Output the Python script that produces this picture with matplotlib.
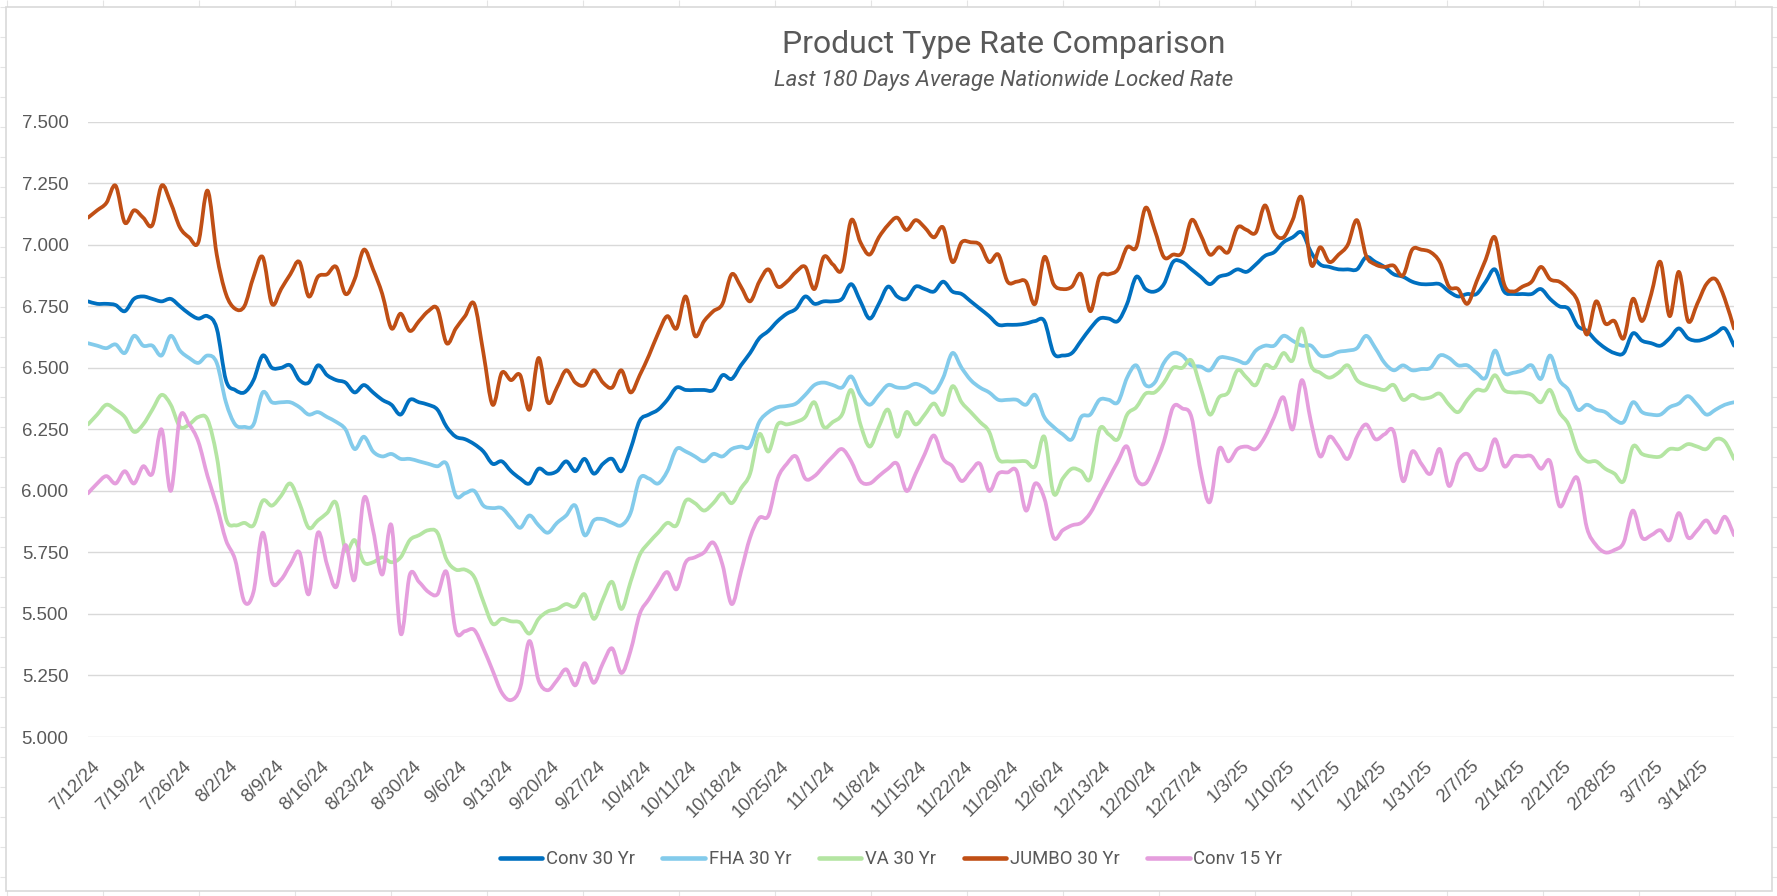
import numpy as np
import pandas as pd
import matplotlib
matplotlib.use('Agg')
import matplotlib.pyplot as plt
from matplotlib.patches import Rectangle, PathPatch
from matplotlib.path import Path
from matplotlib.lines import Line2D
from matplotlib.ticker import FormatStrFormatter
from matplotlib.transforms import ScaledTranslation

plt.rcParams['font.family'] = ['Liberation Sans', 'DejaVu Sans']

# 180 business days of average locked rates
dates = pd.bdate_range('2024-07-12', periods=180)

conv30 = [
    6.77, 6.76, 6.76, 6.755, 6.73, 6.78, 6.79, 6.78, 6.77, 6.78,
    6.75, 6.72, 6.70, 6.71, 6.66, 6.45, 6.41, 6.40, 6.45, 6.55,
    6.50, 6.50, 6.51, 6.45, 6.44, 6.51, 6.47, 6.45, 6.44, 6.40,
    6.43, 6.40, 6.37, 6.35, 6.31, 6.37, 6.36, 6.35, 6.33, 6.26,
    6.22, 6.21, 6.19, 6.16, 6.11, 6.12, 6.08, 6.05, 6.03, 6.09,
    6.07, 6.08, 6.12, 6.08, 6.13, 6.07, 6.11, 6.13, 6.08, 6.17,
    6.285, 6.31, 6.33, 6.37, 6.42, 6.41, 6.41, 6.41, 6.41, 6.47,
    6.455, 6.51, 6.56, 6.62, 6.65, 6.69, 6.72, 6.74, 6.79, 6.76,
    6.77, 6.77, 6.78, 6.84, 6.77, 6.70, 6.76, 6.83, 6.79, 6.78,
    6.83, 6.82, 6.81, 6.85, 6.81, 6.80, 6.77, 6.74, 6.71, 6.675,
    6.675, 6.675, 6.68, 6.69, 6.69, 6.56, 6.55, 6.56, 6.61, 6.66,
    6.70, 6.70, 6.69, 6.76, 6.87, 6.82, 6.81, 6.84, 6.93, 6.93,
    6.90, 6.87, 6.84, 6.87, 6.88, 6.90, 6.89, 6.92, 6.955, 6.97,
    7.01, 7.03, 7.05, 6.97, 6.92, 6.91, 6.90, 6.90, 6.90, 6.95,
    6.93, 6.91, 6.88, 6.87, 6.85, 6.84, 6.84, 6.84, 6.81, 6.79,
    6.80, 6.80, 6.85, 6.90, 6.81, 6.80, 6.80, 6.80, 6.82, 6.78,
    6.75, 6.74, 6.67, 6.65, 6.61, 6.58, 6.56, 6.56, 6.64, 6.61,
    6.60, 6.59, 6.62, 6.66, 6.62, 6.61, 6.62, 6.64, 6.66, 6.59,
]

fha30 = [
    6.60, 6.59, 6.58, 6.595, 6.56, 6.63, 6.59, 6.59, 6.55, 6.63,
    6.57, 6.54, 6.52, 6.55, 6.52, 6.36, 6.27, 6.26, 6.27, 6.40,
    6.36, 6.36, 6.36, 6.34, 6.31, 6.32, 6.30, 6.28, 6.25, 6.17,
    6.22, 6.16, 6.14, 6.15, 6.13, 6.13, 6.12, 6.11, 6.10, 6.11,
    5.98, 5.99, 6.00, 5.94, 5.93, 5.93, 5.89, 5.85, 5.90, 5.86,
    5.83, 5.87, 5.90, 5.94, 5.82, 5.88, 5.885, 5.87, 5.86, 5.91,
    6.05, 6.05, 6.03, 6.08, 6.17, 6.16, 6.14, 6.12, 6.15, 6.14,
    6.17, 6.18, 6.18, 6.28, 6.32, 6.34, 6.345, 6.355, 6.39, 6.43,
    6.44, 6.43, 6.42, 6.465, 6.39, 6.35, 6.39, 6.43, 6.42, 6.42,
    6.435, 6.42, 6.40, 6.46, 6.56, 6.50, 6.45, 6.42, 6.40, 6.37,
    6.37, 6.37, 6.35, 6.39, 6.30, 6.26, 6.23, 6.21, 6.30, 6.31,
    6.37, 6.37, 6.36, 6.46, 6.51, 6.43, 6.44, 6.52, 6.56, 6.55,
    6.51, 6.505, 6.49, 6.54, 6.54, 6.53, 6.52, 6.57, 6.59, 6.59,
    6.63, 6.61, 6.59, 6.59, 6.55, 6.55, 6.565, 6.57, 6.58, 6.63,
    6.58, 6.52, 6.49, 6.51, 6.49, 6.495, 6.50, 6.55, 6.54, 6.51,
    6.51, 6.48, 6.46, 6.57, 6.48, 6.48, 6.49, 6.51, 6.455, 6.55,
    6.45, 6.41, 6.33, 6.35, 6.33, 6.32, 6.29, 6.28, 6.36, 6.32,
    6.31, 6.31, 6.34, 6.355, 6.385, 6.35, 6.31, 6.33, 6.35, 6.36,
]

va30 = [
    6.27, 6.31, 6.35, 6.33, 6.30, 6.24, 6.27, 6.33, 6.39, 6.35,
    6.26, 6.27, 6.30, 6.29, 6.14, 5.89, 5.86, 5.87, 5.86, 5.96,
    5.94, 5.98, 6.03, 5.95, 5.85, 5.88, 5.91, 5.95, 5.76, 5.80,
    5.71, 5.71, 5.73, 5.71, 5.73, 5.80, 5.82, 5.84, 5.83, 5.72,
    5.68, 5.68, 5.65, 5.55, 5.46, 5.48, 5.47, 5.465, 5.42, 5.48,
    5.51, 5.52, 5.54, 5.53, 5.58, 5.48, 5.56, 5.63, 5.52, 5.63,
    5.74, 5.79, 5.83, 5.87, 5.86, 5.96, 5.95, 5.92, 5.95, 5.99,
    5.95, 6.01, 6.07, 6.23, 6.16, 6.27, 6.27, 6.28, 6.30, 6.36,
    6.26, 6.28, 6.31, 6.41, 6.27, 6.18, 6.26, 6.33, 6.22, 6.32,
    6.27, 6.31, 6.355, 6.31, 6.425, 6.36, 6.32, 6.28, 6.24, 6.13,
    6.12, 6.12, 6.12, 6.10, 6.22, 5.99, 6.05, 6.09, 6.08, 6.05,
    6.25, 6.23, 6.21, 6.31, 6.34, 6.395, 6.40, 6.44, 6.50, 6.50,
    6.53, 6.42, 6.31, 6.38, 6.40, 6.49, 6.46, 6.43, 6.51, 6.50,
    6.56, 6.53, 6.66, 6.51, 6.48, 6.46, 6.48, 6.51, 6.45, 6.43,
    6.42, 6.41, 6.43, 6.37, 6.39, 6.375, 6.38, 6.395, 6.35, 6.32,
    6.37, 6.41, 6.41, 6.47, 6.41, 6.40, 6.40, 6.39, 6.36, 6.41,
    6.32, 6.27, 6.16, 6.12, 6.12, 6.09, 6.07, 6.04, 6.18, 6.15,
    6.14, 6.14, 6.17, 6.17, 6.19, 6.18, 6.17, 6.21, 6.20, 6.13,
]

jumbo30 = [
    7.11, 7.14, 7.17, 7.24, 7.09, 7.14, 7.11, 7.08, 7.24, 7.17,
    7.07, 7.03, 7.01, 7.22, 6.96, 6.80, 6.74, 6.75, 6.87, 6.95,
    6.76, 6.82, 6.88, 6.93, 6.79, 6.87, 6.88, 6.91, 6.80, 6.86,
    6.98, 6.90, 6.80, 6.66, 6.72, 6.65, 6.69, 6.73, 6.74, 6.60,
    6.66, 6.71, 6.76, 6.56, 6.35, 6.48, 6.45, 6.47, 6.33, 6.54,
    6.36, 6.42, 6.49, 6.44, 6.43, 6.49, 6.44, 6.42, 6.49, 6.40,
    6.47, 6.55, 6.64, 6.71, 6.66, 6.79, 6.63, 6.69, 6.73, 6.76,
    6.88, 6.83, 6.77, 6.85, 6.90, 6.83, 6.85, 6.89, 6.91, 6.82,
    6.95, 6.92, 6.90, 7.10, 7.01, 6.96, 7.03, 7.08, 7.11, 7.06,
    7.10, 7.07, 7.03, 7.07, 6.93, 7.01, 7.01, 7.00, 6.93, 6.96,
    6.85, 6.85, 6.85, 6.76, 6.95, 6.84, 6.82, 6.83, 6.88, 6.73,
    6.87, 6.88, 6.90, 6.99, 6.99, 7.15, 7.06, 6.95, 6.96, 6.97,
    7.10, 7.04, 6.96, 6.99, 6.97, 7.07, 7.06, 7.05, 7.16, 7.05,
    7.03, 7.10, 7.19, 6.92, 6.99, 6.93, 6.96, 7.00, 7.10, 6.955,
    6.92, 6.91, 6.915, 6.875, 6.98, 6.98, 6.97, 6.93, 6.83, 6.82,
    6.76, 6.85, 6.94, 7.03, 6.84, 6.81, 6.83, 6.85, 6.91, 6.86,
    6.85, 6.82, 6.77, 6.635, 6.77, 6.68, 6.69, 6.62, 6.78, 6.69,
    6.80, 6.93, 6.71, 6.89, 6.69, 6.76, 6.84, 6.86, 6.78, 6.66,
]

conv15 = [
    5.99, 6.03, 6.06, 6.03, 6.08, 6.03, 6.10, 6.07, 6.25, 6.00,
    6.30, 6.27, 6.20, 6.06, 5.94, 5.80, 5.72, 5.55, 5.59, 5.83,
    5.63, 5.64, 5.70, 5.75, 5.58, 5.83, 5.70, 5.61, 5.78, 5.64,
    5.97, 5.84, 5.66, 5.86, 5.42, 5.66, 5.63, 5.59, 5.58, 5.67,
    5.43, 5.43, 5.435, 5.36, 5.27, 5.18, 5.15, 5.20, 5.39, 5.23,
    5.19, 5.23, 5.275, 5.21, 5.30, 5.22, 5.30, 5.36, 5.26, 5.35,
    5.50, 5.56, 5.62, 5.67, 5.60, 5.71, 5.73, 5.75, 5.79, 5.70,
    5.54, 5.67, 5.81, 5.89, 5.90, 6.05, 6.11, 6.14, 6.05, 6.06,
    6.10, 6.14, 6.17, 6.12, 6.04, 6.03, 6.06, 6.09, 6.11, 6.00,
    6.07, 6.15, 6.225, 6.13, 6.10, 6.04, 6.08, 6.11, 6.00, 6.07,
    6.075, 6.08, 5.92, 6.03, 5.97, 5.81, 5.84, 5.86, 5.87, 5.91,
    5.98, 6.05, 6.12, 6.18, 6.05, 6.03, 6.10, 6.20, 6.34, 6.335,
    6.30, 6.08, 5.955, 6.17, 6.12, 6.17, 6.18, 6.17, 6.22, 6.30,
    6.38, 6.25, 6.45, 6.28, 6.14, 6.22, 6.18, 6.13, 6.22, 6.27,
    6.21, 6.23, 6.24, 6.04, 6.16, 6.11, 6.07, 6.17, 6.02, 6.12,
    6.15, 6.09, 6.10, 6.21, 6.10, 6.14, 6.14, 6.14, 6.09, 6.12,
    5.94, 6.00, 6.05, 5.85, 5.78, 5.75, 5.76, 5.79, 5.92, 5.81,
    5.82, 5.84, 5.80, 5.91, 5.81, 5.84, 5.88, 5.83, 5.895, 5.82,
]

series_names = ['Conv 30 Yr', 'FHA 30 Yr', 'VA 30 Yr', 'JUMBO 30 Yr', 'Conv 15 Yr']
series_colors = ['#0070C0', '#83CBEB', '#B4E5A2', '#C04F15', '#E59EDD']
narrow = ['Liberation Sans Narrow', 'Roboto', 'DejaVu Sans']
text_color = '#595959'
line_w = 2.7


def smooth_path(xs, ys):
    # Excel style "smoothed line": cubic Bezier through every point
    p = np.column_stack([xs, ys]).astype(float)
    ext = np.vstack([p[:1], p, p[-1:]])
    verts = [p[0]]
    codes = [Path.MOVETO]
    for i in range(len(p) - 1):
        c1 = ext[i + 1] + (ext[i + 2] - ext[i]) / 6
        c2 = ext[i + 2] - (ext[i + 3] - ext[i + 1]) / 6
        verts += [c1, c2, p[i + 1]]
        codes += [Path.CURVE4] * 3
    return Path(verts, codes)


W, H = 1777, 896
fig = plt.figure(figsize=(W / 100, H / 100), dpi=100)

# worksheet cells behind the chart object
bg = fig.add_axes([0, 0, 1, 1])
bg.set_xlim(0, W)
bg.set_ylim(H, 0)
bg.axis('off')
bg.vlines(np.arange(6.6, W, 96), 0, H, color='#E4E4E4', lw=0.8)
bg.hlines(np.arange(6.7, H, 30), 0, W, color='#E4E4E4', lw=0.8)
bg.add_patch(Rectangle((5.5, 7), 1766, 884, facecolor='white', edgecolor='#D9D9D9', lw=1.2, zorder=3))

ax = fig.add_axes([88 / W, 1 - 737 / H, (1734 - 88) / W, (737 - 121.7) / H], zorder=2)
ax.patch.set_alpha(0)

x = np.arange(len(dates))
handles = []
for vals, name, c in zip([conv30, fha30, va30, jumbo30, conv15], series_names, series_colors):
    ax.add_patch(PathPatch(smooth_path(x, vals), fill=False, edgecolor=c, lw=line_w,
                           joinstyle='round', capstyle='round'))
    handles.append(Line2D([], [], color=c, lw=line_w + 0.6, solid_capstyle='round', label=name))

ax.set_xlim(0, len(dates) - 1)
ax.set_ylim(5.0, 7.5)
ax.set_yticks(np.arange(5.0, 7.51, 0.25))
ax.yaxis.set_major_formatter(FormatStrFormatter('%.3f'))
ax.yaxis.grid(True, color='#D9D9D9', lw=1.0)
ax.set_axisbelow(True)
for s in ax.spines.values():
    s.set_visible(False)

tick_idx = x[::5]
ax.set_xticks(tick_idx)
ax.set_xticklabels([f'{d.month}/{d.day}/{d:%y}' for d in dates[::5]],
                   rotation=45, ha='right', rotation_mode='anchor')
ax.tick_params(axis='both', length=0, labelsize=13.4, labelcolor=text_color)
ax.tick_params(axis='y', pad=14)
ax.tick_params(axis='x', pad=15)
for lab in ax.get_xticklabels():
    lab.set_transform(lab.get_transform() + ScaledTranslation(3 / 100, 0, fig.dpi_scale_trans))

fig.text(1004 / W, 1 - 53.3 / H, 'Product Type Rate Comparison', ha='center', va='baseline',
         fontsize=23, color=text_color, family=narrow)
fig.text(1004 / W, 1 - 86 / H, 'Last 180 Days Average Nationwide Locked Rate', ha='center', va='baseline',
         fontsize=16, color=text_color, family=narrow, style='italic')

ax.legend(handles=handles, loc='center', bbox_to_anchor=(891 / W, 1 - 859 / H), bbox_transform=fig.transFigure,
          ncol=5, frameon=False, prop={'family': narrow, 'size': 13.3}, labelcolor=text_color,
          handlelength=2.3, handletextpad=0.2, columnspacing=1.5)

plt.savefig('out.png', dpi=100, facecolor='white')
plt.close()
